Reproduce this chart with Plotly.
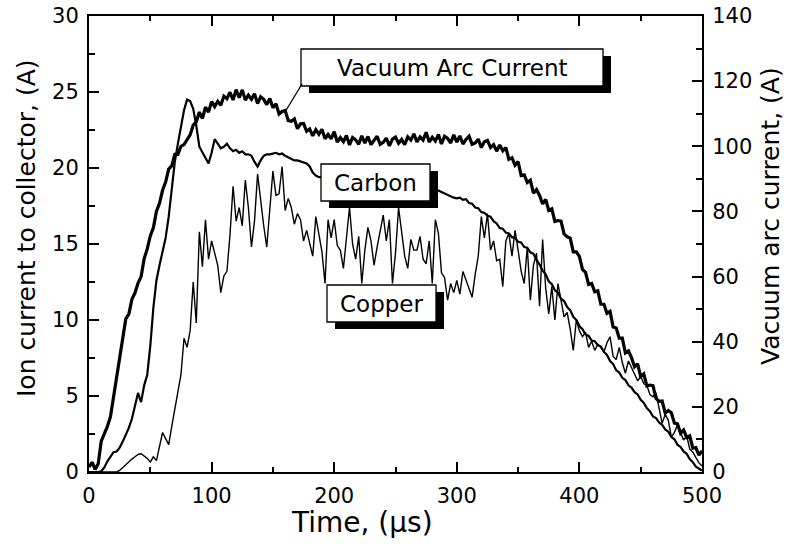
import plotly.graph_objects as go

# time grid (µs), 2.5 µs sampling
time_us = [i * 2.5 for i in range(201)]

# Vacuum arc current (A, right axis)
vacuum_arc = [
    1.5, 3.0, 0.8, 2.5, 9.5, 11.5, 14.0, 17.0, 23.0, 29.0,
    35.5, 41.0, 47.0, 48.5, 53.0, 55.0, 58.0, 60.0, 65.5, 68.5,
    72.5, 75.0, 80.0, 82.5, 86.5, 89.0, 93.0, 94.0, 97.5, 97.5,
    100.0, 100.5, 102.0, 103.5, 106.5, 107.5, 110.5, 108.5, 112.0, 110.5,
    113.7, 112.2, 113.8, 112.6, 115.4, 114.6, 116.6, 114.2, 117.4, 114.9,
    117.3, 114.2, 115.7, 114.4, 116.1, 113.1, 115.2, 114.4, 112.8, 114.7,
    111.8, 113.1, 109.9, 110.7, 111.0, 107.9, 107.7, 108.4, 105.4, 106.9,
    107.0, 104.6, 105.3, 103.2, 105.1, 103.7, 105.2, 102.3, 103.6, 102.3,
    104.5, 101.3, 102.7, 101.4, 103.3, 100.4, 102.7, 102.0, 100.6, 103.2,
    101.0, 103.0, 100.5, 102.0, 103.1, 100.6, 101.2, 102.5, 100.1, 102.2,
    102.8, 100.9, 102.1, 100.5, 102.9, 101.9, 103.8, 101.3, 102.9, 101.9,
    104.3, 101.3, 102.8, 101.6, 103.6, 100.7, 103.1, 102.4, 101.0, 103.5,
    101.3, 103.2, 100.7, 102.1, 103.1, 100.6, 101.0, 102.2, 99.6, 101.4,
    101.8, 99.6, 100.5, 98.5, 100.4, 98.6, 99.6, 96.0, 96.5, 94.2,
    95.3, 91.0, 91.2, 88.9, 89.6, 85.6, 86.7, 84.9, 82.3, 83.7,
    80.3, 80.8, 76.9, 77.2, 77.0, 73.1, 72.2, 71.8, 67.6, 67.6,
    66.2, 62.2, 61.3, 57.6, 57.9, 55.3, 55.6, 51.5, 51.5, 48.7,
    49.3, 44.5, 44.2, 41.1, 41.1, 36.6, 37.2, 35.1, 32.3, 33.2,
    29.3, 30.1, 26.4, 26.7, 26.5, 22.6, 21.7, 21.8, 18.1, 18.9,
    18.2, 15.0, 14.8, 11.9, 12.9, 10.6, 11.1, 7.3, 7.5, 5.2,
    6.5,
]

# Carbon ion current (A, left axis)
carbon = [
    0, 0, 0, 0, 0.05, 0.3, 0.7, 1.0, 1.3, 1.35,
    1.6, 2.0, 2.4, 2.9, 3.5, 4.4, 5.2, 4.6, 5.7, 6.4,
    8.3, 10.8, 12.6, 13.6, 14.5, 15.4, 16.8, 18.8, 20.4, 21.6,
    22.7, 23.8, 24.5, 24.4, 23.9, 22.8, 21.4, 21.0, 20.6, 20.3,
    21.0, 21.9, 21.6, 21.3, 21.4, 21.6, 21.3, 21.1, 21.2, 21.0,
    21.1, 20.9, 20.9, 20.8, 20.4, 20.1, 20.5, 20.8, 20.9, 20.9,
    20.95, 21.0, 20.9, 20.95, 20.8, 20.7, 20.6, 20.5, 20.5, 20.45,
    20.4, 20.3, 20.1, 19.7, 19.5, 19.4, 19.4, 19.35, 19.3, 19.3,
    19.25, 19.2, 19.2, 19.15, 19.1, 19.1, 19.05, 19.0, 19.0, 18.95,
    18.95, 18.9, 18.9, 18.9, 18.85, 18.85, 18.8, 18.8, 18.8, 18.75,
    18.75, 18.75, 18.7, 18.7, 18.7, 18.7, 18.7, 18.65, 18.65, 18.65,
    18.65, 18.65, 18.7, 18.6, 18.5, 18.4, 18.3, 18.2, 18.1, 18.05,
    18.0, 18.05, 17.9, 17.95, 17.7, 17.65, 17.4, 17.35, 17.1, 17.05,
    16.85, 16.8, 16.5, 16.35, 16.05, 16.0, 15.75, 15.7, 15.45, 15.4,
    15.15, 15.1, 14.8, 14.75, 14.45, 14.35, 13.95, 13.65, 13.25, 13.0,
    12.55, 12.35, 11.95, 11.8, 11.4, 11.25, 10.85, 10.65, 10.2, 10.0,
    9.6, 9.4, 9.05, 8.95, 8.65, 8.6, 8.35, 8.25, 7.9, 7.7,
    7.3, 7.1, 6.7, 6.55, 6.2, 6.05, 5.7, 5.55, 5.25, 5.1,
    4.75, 4.55, 4.2, 4.0, 3.65, 3.55, 3.25, 3.1, 2.8, 2.65,
    2.3, 2.15, 1.8, 1.65, 1.35, 1.2, 0.85, 0.65, 0.35, 0.25,
    0.1,
]

# Copper ion current (A, left axis)
copper = [
    0, 0, 0, 0, 0, 0, 0, 0, 0, 0,
    0.1, 0.3, 0.45, 0.7, 0.85, 1.0, 1.15, 1.2, 1.05, 0.9,
    0.65, 1.0, 0.75, 1.6, 2.6, 2.2, 1.8, 3.0, 4.1, 5.4,
    6.4, 8.8, 8.2, 9.3, 12.5, 9.8, 15.8, 13.5, 16.6, 14.0,
    15.2, 14.4, 13.6, 11.8, 12.9, 13.2, 15.6, 18.8, 16.5, 17.4,
    16.2, 19.2, 17.4, 14.8, 16.5, 19.6, 17.8, 16.2, 14.8, 17.4,
    19.8, 18.2, 18.3, 20.1, 17.2, 18.0, 17.4, 16.3, 17.0, 16.6,
    15.2, 15.9, 15.0, 14.2, 16.8, 15.6, 14.5, 12.4, 16.6, 15.4,
    16.6, 14.9, 14.6, 13.4, 15.6, 17.4, 15.0, 14.0, 15.5, 12.4,
    14.6, 16.1, 15.2, 13.6, 14.8, 15.8, 16.9, 15.2, 16.6, 12.4,
    14.4, 17.4, 15.7, 14.2, 13.4, 15.3, 14.6, 14.6, 15.5, 14.0,
    13.7, 15.2, 12.4, 16.6, 15.7, 13.1, 12.8, 11.3, 12.4, 11.8,
    12.6, 11.7, 13.2, 12.6, 12.0, 11.5, 13.0, 14.2, 16.8, 15.4,
    17.0, 14.6, 15.2, 13.9, 14.0, 12.2, 15.2, 15.7, 14.2, 15.9,
    14.6, 13.2, 12.4, 14.8, 11.3, 13.6, 14.4, 10.9, 15.3, 12.1,
    10.4, 12.2, 10.0, 12.4, 11.3, 10.2, 10.5, 9.4, 8.0, 10.0,
    9.3, 8.9, 9.2, 8.2, 8.6, 8.0, 8.4, 8.2, 7.9, 8.5,
    8.9, 7.6, 7.4, 8.2, 7.2, 6.5, 7.3, 6.9, 6.4, 6.0,
    6.3, 5.8, 5.7, 5.1, 4.95, 5.2, 4.2, 3.2, 3.8, 3.4,
    2.3, 2.6, 3.1, 2.6, 2.1, 2.4, 1.5, 1.3, 0.9, 0.6,
    0.4,
]

x_ticks = [0, 100, 200, 300, 400, 500]
y_left_ticks = [0, 5, 10, 15, 20, 25, 30]
y_right_ticks = [0, 20, 40, 60, 80, 100, 120, 140]

FONT = "DejaVu Sans"
FIG_W, FIG_H = 794, 558
PX0, PX1, PY0, PY1 = 89, 702, 16, 472  # plot area in page pixels
L, R, T, B = PX0, FIG_W - PX1, PY0, FIG_H - PY1


def X(px):
    return (px - PX0) * 500 / (PX1 - PX0)


def Y(py):
    return (PY1 - py) * 30 / (PY1 - PY0)


def PXP(px):
    return (px - PX0) / (PX1 - PX0)


def PYP(py):
    return (PY1 - py) / (PY1 - PY0)


fig = go.Figure()
fig.add_trace(go.Scatter(x=time_us, y=carbon, mode="lines",
                         line=dict(color="black", width=2.2), yaxis="y",
                         showlegend=False))
fig.add_trace(go.Scatter(x=time_us, y=copper, mode="lines",
                         line=dict(color="black", width=1.4), yaxis="y",
                         showlegend=False))
fig.add_trace(go.Scatter(x=time_us, y=vacuum_arc, mode="lines",
                         line=dict(color="black", width=3.2), yaxis="y2",
                         showlegend=False))

shapes = []
boxes = [
    ("Vacuum Arc Current", 301, 603, 49, 86),
    ("Carbon", 321, 430, 164, 201),
    ("Copper", 327, 436, 285, 322),
]
annotations = []
for text, x0, x1, y0, y1 in boxes:
    shapes.append(dict(type="rect", xref="x", yref="y",
                       x0=X(x0 + 8), x1=X(x1 + 8), y0=Y(y1 + 7), y1=Y(y0 + 7),
                       fillcolor="black", line=dict(width=0)))
    shapes.append(dict(type="rect", xref="x", yref="y",
                       x0=X(x0), x1=X(x1), y0=Y(y1), y1=Y(y0),
                       fillcolor="white", line=dict(color="black", width=1.3)))
    annotations.append(dict(text=text, xref="x", yref="y",
                            x=X((x0 + x1) / 2), y=Y((y0 + y1) / 2),
                            showarrow=False, xanchor="center", yanchor="middle",
                            font=dict(family=FONT, size=23, color="black")))
shapes.append(dict(type="line", xref="x", yref="y",
                   x0=X(302), y0=Y(84), x1=X(285), y1=Y(112),
                   line=dict(color="black", width=1.3)))

# axis titles
annotations.append(dict(text="Time, (µs)", xref="paper", yref="paper",
                        x=PXP(362), y=PYP(522), showarrow=False,
                        xanchor="center", yanchor="middle",
                        font=dict(family=FONT, size=28, color="black")))
annotations.append(dict(text="Ion current to collector, (A)", xref="paper", yref="paper",
                        x=PXP(26), y=PYP(228), showarrow=False, textangle=-90,
                        xanchor="center", yanchor="middle",
                        font=dict(family=FONT, size=25, color="black")))
annotations.append(dict(text="Vacuum arc current, (A)", xref="paper", yref="paper",
                        x=PXP(770), y=PYP(216), showarrow=False, textangle=-90,
                        xanchor="center", yanchor="middle",
                        font=dict(family=FONT, size=25, color="black")))

axis_common = dict(showgrid=False, zeroline=False, showline=True,
                   linecolor="black", linewidth=2, ticks="inside",
                   tickcolor="black", tickwidth=2, ticklen=10, automargin=False,
                   ticklabeloverflow="allow",
                   tickfont=dict(family=FONT, size=21, color="black"))

fig.update_layout(
    width=FIG_W, height=FIG_H, autosize=False,
    margin=dict(l=L, r=R, t=T, b=B, pad=0),
    paper_bgcolor="white", plot_bgcolor="white",
    shapes=shapes, annotations=annotations,
    xaxis=dict(range=[0, 500], tickvals=x_ticks, mirror="ticks",
               minor=dict(dtick=50, ticklen=5, tickwidth=2, tickcolor="black", ticks="inside"),
               ticklabelstandoff=4,
               **axis_common),
    yaxis=dict(range=[0, 30], tickvals=y_left_ticks,
               minor=dict(dtick=2.5, ticklen=6, tickwidth=2, tickcolor="black", ticks="inside"),
               ticklabelstandoff=4,
               **axis_common),
    yaxis2=dict(range=[0, 140], tickvals=y_right_ticks, overlaying="y", side="right",
                minor=dict(dtick=10, ticklen=6, tickwidth=2, tickcolor="black", ticks="inside"),
                ticklabelstandoff=4,
                **axis_common),
)

fig.write_html("out.html",
               config={"displayModeBar": False, "staticPlot": True},
               post_script="document.body.style.margin='0px';document.body.style.overflow='hidden';")
